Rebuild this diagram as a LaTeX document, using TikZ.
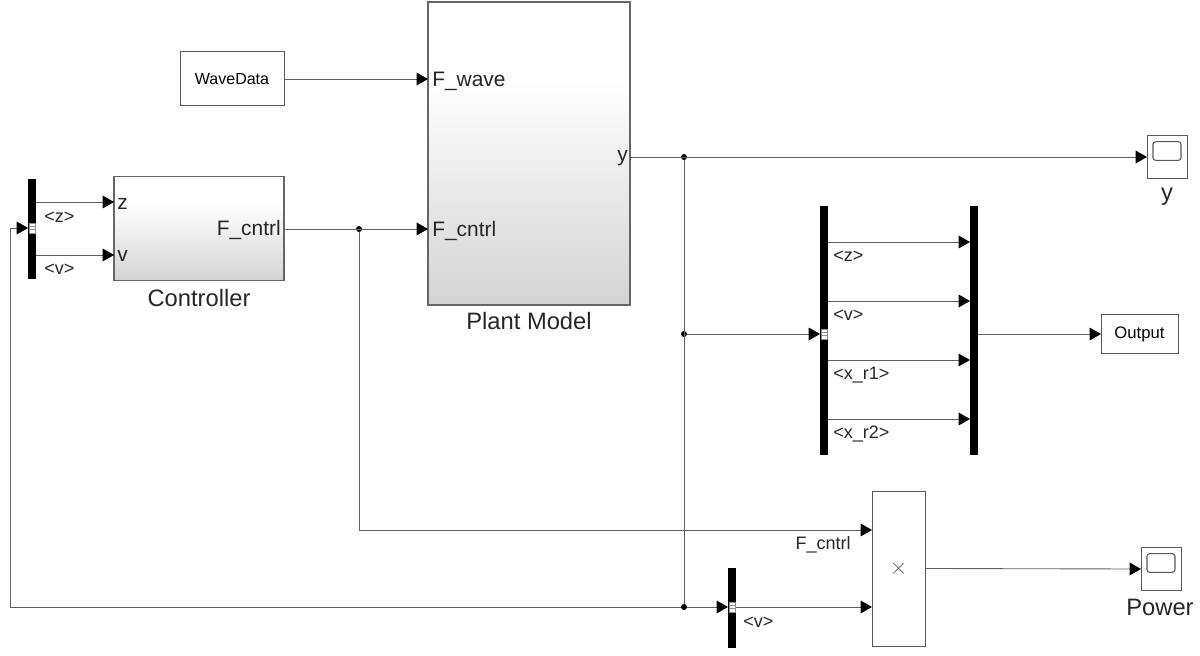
\documentclass[tikz,border=0pt]{standalone}
\usepackage{fontspec}
\setmainfont{Liberation Sans}
\usetikzlibrary{arrows.meta,shadows}
\pgfdeclareverticalshading{blockgrad}{100bp}{
  color(0bp)=(black!17); color(25bp)=(black!17); color(45bp)=(black!8); color(62bp)=(white); color(100bp)=(white)}
\definecolor{wire}{gray}{0.38}
\tikzset{
  wirepath/.style={draw=wire,line width=0.65pt},
  sig/.style={wirepath,-{Triangle[length=8.5pt,width=9.5pt,fill=black,color=black]}},
  plainbox/.style={draw=black!65,line width=0.75pt,fill=white,inner sep=0pt,outer sep=0pt},
  gradbox/.style={draw=black!60,line width=1pt,shading=blockgrad,inner sep=0pt,outer sep=0pt,
    drop shadow={shadow xshift=0.6pt,shadow yshift=-0.6pt,opacity=0.3,fill=black}},
  busbar/.style={fill=black,draw=none,inner sep=0pt,outer sep=0pt,minimum width=6pt},
  busport/.style={fill=white,draw=black!45,line width=0.4pt,inner sep=0pt,outer sep=0pt,minimum width=4.6pt,minimum height=7.5pt},
  junction/.style={circle,fill=black,inner sep=0pt,outer sep=0pt,minimum size=4.5pt},
  small/.style={inner sep=0pt,font=\fontsize{13.5}{15}\selectfont,text=black!85},
  port/.style={inner sep=0pt,font=\fontsize{15.7}{18}\selectfont,text=black!85},
  title/.style={inner sep=0pt,font=\fontsize{17.8}{20}\selectfont,text=black!85},
}
\begin{document}
\begin{tikzpicture}[x=0.75pt,y=-0.75pt]
\useasboundingbox (0,0) rectangle (1200,656);
% blocks
\node[plainbox,minimum width=78pt,minimum height=40.5pt,font=\fontsize{12}{14}\selectfont] (wave) at (232,79) {WaveData};
\node[gradbox,minimum width=151.5pt,minimum height=227pt] (plant) at (529,153.5) {};
\node[gradbox,minimum width=127.5pt,minimum height=78pt] (ctrl) at (199,228.5) {};
\node[plainbox,minimum width=57.75pt,minimum height=29.25pt,font=\fontsize{12.5}{14}\selectfont] (output) at (1139.5,334) {Output};
\node[plainbox,minimum width=39.75pt,minimum height=116.25pt,font=\fontsize{17}{18}\selectfont,text=black!60] (mult) at (898.5,568.5) {$\times$};
\node[plainbox,minimum width=30pt,minimum height=32pt] (scopey) at (1167,157) {};
\node[draw=black!65,line width=0.8pt,rounded corners=2pt,inner sep=0pt,minimum width=21pt,minimum height=14pt] (scopeyin) at (1167,151) {};
\node[plainbox,minimum width=30pt,minimum height=32pt] (scopep) at (1161,569) {};
\node[draw=black!65,line width=0.8pt,rounded corners=2pt,inner sep=0pt,minimum width=21pt,minimum height=14pt] (scopepin) at (1161,563) {};
% bars
\node[busbar,minimum height=75pt] (busc) at (32,229) {};
\node[busport] (buscp) at (32,228) {};
\node[busbar,minimum height=187pt] (busm) at (824,330.5) {};
\node[busport] (busmp) at (824,334) {};
\node[busbar,minimum height=187pt] (busr) at (974,330.5) {};
\node[busbar,minimum height=60pt] (busv) at (732,608) {};
\node[busport] (busvp) at (732,607) {};
\foreach \p in {buscp,busmp,busvp}{
  \draw[black!45,line width=0.4pt] ([yshift=1.2pt]\p.west) -- ([yshift=1.2pt]\p.east);
  \draw[black!45,line width=0.4pt] ([yshift=-1.2pt]\p.west) -- ([yshift=-1.2pt]\p.east);
}
% coordinates
\coordinate (waveIn) at (428,79);
\coordinate (plantCtrl) at (428,229);
\coordinate (plantY) at (630,157);
\coordinate (ctrlZ) at (114,202);
\coordinate (ctrlV) at (114,255);
\coordinate (ctrlOut) at (284,229);
\coordinate (loopA) at (10,228);
\coordinate (loopB) at (10,607);
\coordinate (multA) at (872,530);
\coordinate (multB) at (872,607);
\coordinate (rA) at (970,242);
\coordinate (rB) at (970,301);
\coordinate (rC) at (970,360);
\coordinate (rD) at (970,419);
\coordinate (fdown) at (359,530);
\node[junction] (j1) at (359,229) {};
\node[junction] (j2) at (684,157) {};
\node[junction] (j3) at (684,334) {};
\node[junction] (j4) at (684,607) {};
% connectors
\draw[sig] (wave.east |- waveIn) -- (waveIn);
\draw[sig] (ctrlOut) -- (plantCtrl);
\draw[sig] (plantY) -- (scopey.west |- plantY);
\draw[sig] (busc.east |- ctrlZ) -- (ctrlZ);
\draw[sig] (busc.east |- ctrlV) -- (ctrlV);
\draw[wirepath] (j1) -- (fdown);
\draw[sig] (fdown) -- (multA);
\draw[wirepath] (j2) -- (j4);
\draw[sig] (j3) -- (busm.west |- j3);
\draw[sig] (j4) -- (busv.west |- j4);
\draw[sig] (busv.east |- multB) -- (multB);
\draw[sig] (loopB) -- (loopA) -- (busc.west |- loopA);
\draw[wirepath] (loopB) -- (j4);
\draw[sig] (busm.east |- rA) -- (rA);
\draw[sig] (busm.east |- rB) -- (rB);
\draw[sig] (busm.east |- rC) -- (rC);
\draw[sig] (busm.east |- rD) -- (rD);
\draw[sig] (busr.east |- output) -- (output.west);
\draw[sig] (mult.east) -- (scopep.west);
% port labels
\node[port,anchor=west] (lw) at (432,81) {F\_wave};
\node[port,anchor=west] (lc) at (432,230.5) {F\_cntrl};
\node[port,anchor=east] (ly) at (628,158) {y};
\node[port,anchor=west] (lz) at (117,204) {z};
\node[port,anchor=west] (lv) at (117,256) {v};
\node[port,anchor=east] (lf) at (281,229.5) {F\_cntrl};
% titles
\node[title] (tc) at (199,298) {Controller};
\node[title] (tp) at (529,321) {Plant Model};
\node[title] (ty) at (1167,197) {y};
\node[title] (tpw) at (1160,607) {Power};
% signal labels
\node[small,anchor=west] (s1) at (44,217.5) {<z>};
\node[small,anchor=west] (s2) at (44,269.5) {<v>};
\node[small,anchor=west] (s3) at (833,256.5) {<z>};
\node[small,anchor=west] (s4) at (833,315.5) {<v>};
\node[small,anchor=west] (s5) at (833,375) {<x\_r1>};
\node[small,anchor=west] (s6) at (833,434) {<x\_r2>};
\node[small,anchor=east] (s7) at (851,545) {F\_cntrl};
\node[small,anchor=west] (s8) at (743,622.5) {<v>};
\end{tikzpicture}
\end{document}
